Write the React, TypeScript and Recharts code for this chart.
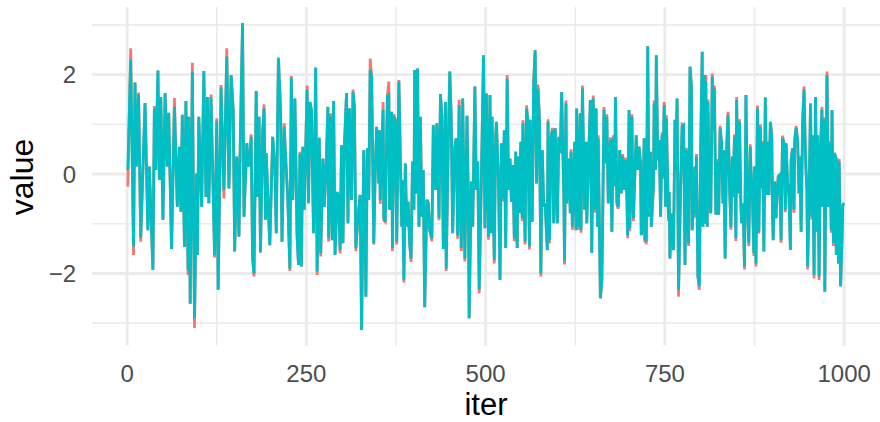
import { LineChart, Line, XAxis, YAxis, CartesianGrid } from 'recharts';

const iters = [
  // 0 - 142
  1, 5, 9, 11, 13, 16, 19, 25, 29, 31, 36, 38, 40, 43, 45, 47, 50, 53, 56, 58,
  62, 66, 70, 73, 75, 77, 80, 82, 85, 86, 88, 91, 94, 97, 98, 100, 104, 107, 110, 112,
  114, 117, 122, 125, 127, 131, 135, 139, 142,
  // 145 - 322
  145, 148, 150, 153, 156, 158, 161, 163, 167, 169, 171, 173, 175, 177, 180, 182, 184, 186, 189, 191,
  193, 194, 197, 199, 203, 206, 208, 211, 214, 216, 219, 222, 224, 227, 229, 231, 234, 237, 239, 241,
  243, 245, 247, 249, 251, 253, 255, 257, 260, 263, 265, 268, 270, 273, 275, 278, 280, 281, 284, 286,
  288, 290, 293, 295, 297, 299, 301, 303, 306, 308, 310, 313, 315, 317, 319, 322,
  // 325 - 501
  325, 327, 330, 332, 333, 335, 337, 339, 341, 344, 346, 348, 351, 352, 353, 355, 357, 358, 360, 363,
  365, 366, 369, 370, 372, 374, 376, 379, 381, 383, 384, 386, 388, 390, 392, 394, 396, 398, 400, 401,
  403, 405, 407, 409, 411, 413, 415, 418, 420, 422, 425, 427, 430, 432, 435, 437, 439, 441, 444, 445,
  448, 450, 452, 454, 457, 459, 461, 463, 466, 468, 471, 474, 476, 477, 480, 482, 485, 487, 489, 491,
  494, 497, 499, 501,
  // 504 - 683
  504, 506, 508, 509, 512, 514, 515, 518, 520, 522, 524, 526, 528, 530, 532, 534, 536, 538, 540, 542,
  544, 545, 547, 549, 551, 552, 555, 557, 559, 561, 562, 565, 567, 569, 571, 573, 575, 577, 579, 581,
  583, 586, 587, 589, 591, 593, 595, 597, 600, 602, 604, 606, 609, 610, 612, 613, 616, 618, 619, 621,
  624, 626, 627, 630, 632, 633, 635, 638, 640, 641, 644, 646, 648, 650, 652, 654, 656, 657, 660, 662,
  663, 665, 667, 669, 671, 674, 676, 678, 680, 681, 683,
  // 685 - 865
  685, 687, 689, 691, 693, 695, 697, 698, 700, 701, 704, 705, 706, 708, 710, 712, 714, 716, 717, 719,
  721, 722, 723, 724, 726, 728, 730, 731, 734, 735, 737, 738, 740, 742, 744, 746, 747, 749, 751, 752,
  755, 756, 757, 759, 762, 764, 765, 767, 769, 770, 772, 774, 776, 778, 780, 782, 783, 785, 787, 788,
  790, 792, 793, 794, 796, 798, 800, 802, 803, 805, 806, 807, 809, 810, 812, 814, 816, 818, 819, 821,
  823, 825, 827, 829, 831, 832, 834, 836, 838, 840, 842, 844, 845, 847, 849, 850, 852, 854, 856, 857,
  859, 861, 863, 865,
  // 867 - 1000
  867, 869, 870, 872, 874, 875, 877, 879, 881, 883, 885, 886, 888, 890, 892, 894, 895, 897, 899, 900,
  901, 903, 905, 906, 908, 910, 912, 914, 916, 918, 919, 921, 923, 925, 926, 928, 930, 931, 933, 935,
  937, 938, 940, 942, 944, 946, 948, 949, 951, 953, 955, 956, 958, 960, 962, 963, 965, 967, 969, 970,
  972, 973, 975, 976, 978, 980, 982, 983, 985, 986, 988, 989, 990, 992, 993, 995, 997, 998, 1000,
];

// chain 1 (red, drawn underneath)
const chainRed = [
  -0.25, 2.53, -1.63, 1.84, 0.15, 1.64, -1.36, 1.43, -1.13, 0.15, -1.93, 1.37, 0.08, 2.08, -0.12, 1.55, -0.92, 1.63, 0.15, 1.23,
  -1.51, 1.53, -0.66, 0.55, -0.76, 1.19, -1.47, 1.47, -2.03, 1.15, -2.61, 2.24, -3.1, 0.01, -1.63, 1.15, -0.66, 2.07, -0.46, 1.55,
  -0.59, 1.6, -1.68, 1.12, -2.33, 1.79, -0.49, 2.53, -0.29,

  1.99, 1.29, -1.56, 0.35, -1.26, 0.82, 3.04, -0.86, 0.62, 0.15, 0.28, 0.8, -1.7, -2.06, 1.67, -0.46, 1.15, -1.58, 0.85, 1.4,
  -0.92, 0.42, -0.72, -1.43, 0.75, 0.15, -1.19, 2.34, 1.29, -1.36, 1.02, 0.08, -0.46, -1.95, 1.97, -0.52, 1.52, -1.23, -1.83, 0.45,
  -1.86, 0.55, -0.72, 0.48, 1.78, -0.59, 1.45, 1.29, -1.19, 2.14, -2.03, 0.73, -1.66, 0.31, -0.66, 0.35, 1.35, -1.36, 1.22, -1.33,
  1.47, -1.63, -0.4, -0.46, -1.6, 0.58, -1.39, 0.55, 1.63, -0.99, 1.32, -0.52, 1.7, 1.35, -1.55, -0.86,

  -0.42, -3.14, 0.48, -1.13, -2.47, 0.52, -0.52, 2.32, 1.96, -1.42, 0.05, 0.95, -0.19, 0.88, -0.6, 0.35, 1.45, -0.93, -0.96, 1.57,
  1.86, -0.72, 1.25, -1.55, 1.2, 1.09, -1.42, 1.89, 0.35, -1.06, -0.12, -2.18, 0.21, -1.06, -0.56, -1.39, -1.77, 0.25, -0.72, 2.09,
  -0.39, 2.12, -1.06, 1.15, -0.86, 0.08, -2.68, -0.52, -0.59, -1.13, -1.35, 0.98, -0.32, 1.02, -0.93, 1.61, 1.15, -1.51, 1.45, -1.95,
  0.72, 2.06, 1.12, -1.19, 0.55, 0.72, -1.3, 1.49, -1.55, 1.52, -1.76, 1.17, -0.69, -2.9, -0.15, -1.06, 1.76, -0.32, 0.25, -2.4,
  -0.12, 2.39, -1.09, 1.62,

  -1.32, 1.59, -1.19, 1.15, -1.8, 0.75, 1.05, -0.19, -2.13, 0.62, -0.55, 0.88, -1.49, 1.99, -0.32, 0.31, -0.56, 0.18, -1.35, 0.45,
  -1.49, 0.35, -0.79, 0.65, -0.95, 1.08, -1.42, 1.38, 1.05, -1.52, 1.09, -0.96, 1.88, 2.49, -0.19, 1.8, 1.14, -2.06, 0.48, -0.66,
  -0.59, -1.53, 1.1, -1.4, 0.68, 0.93, -0.99, 0.92, -0.99, 0.75, 0.42, 1.65, -0.42, -1.82, 1.48, -0.59, 0.31, -0.79, 0.5, -1.12,
  0.65, -1.13, 1.32, -1.12, 1.22, -1.18, 1.78, -0.72, 0.65, -0.99, 0.48, 1.49, -1.59, 1.58, -0.78, 1.32, -1.06, 0.78, -2.5, -2.18,
  -1.16, 1.35, 0.21, 1.2, -0.59, 0.74, -1.16, 0.78, -0.25, 1.55, -0.62,

  -0.7, 0.48, -0.39, 0.4, -0.32, 0.33, -0.46, -1.29, 1.29, -1.15, 1.2, -0.25, -0.95, -0.05, 0.78, 0.08, 0.55, 0.21, -1.23, -1.0,
  0.72, -1.38, 0.1, -1.42, 2.57, -0.86, 0.45, -1.06, -0.25, 1.48, 0.08, 2.39, 0.28, 0.68, -0.86, 0.84, -0.1, 1.45, -0.66, 1.18,
  -0.95, -0.36, -1.7, -0.85, -1.53, 1.09, 0.08, 1.52, -2.47, -1.66, -0.19, 1.0, 0.98, -1.83, 0.53, -0.86, -1.45, 2.16, 1.76, -1.13,
  -0.59, 0.15, -0.88, 0.4, -2.06, -2.33, 0.68, 2.46, -1.06, 1.99, -1.0, 1.99, -1.06, 1.5, -0.5, -0.79, 2.02, 0.88, 1.78, -0.82,
  0.3, -0.82, 0.97, 0.62, -0.59, 0.48, -1.7, 0.53, 1.25, -0.19, -1.12, 0.35, -0.46, 0.8, -1.35, 1.55, -0.39, 1.1, -0.66, -0.99,
  -0.65, -1.92, 1.59, -0.59,

  -1.45, 0.6, 0.08, -0.46, -1.65, 0.15, -1.86, 1.38, -1.2, 1.0, -0.29, 0.67, -1.56, 1.54, -0.42, 0.65, -0.42, 1.05, 0.8, -0.79,
  -1.33, -0.15, -0.89, -0.52, -0.05, -0.02, -1.38, 0.77, 0.62, -0.77, 0.62, -0.15, -0.47, -1.53, 0.28, 0.52, -0.78, 0.68, 0.97, 0.68,
  -0.39, 0.35, -1.16, 1.02, 1.76, 0.35, -0.32, -1.92, -0.62, 1.42, -0.92, 0.78, -2.1, 1.55, -1.16, 0.78, -2.13, 0.48, 1.35, -0.66,
  1.14, -2.37, 0.75, 2.06, -0.66, 0.67, -1.18, 1.29, -1.45, 0.42, 0.35, -1.63, 0.33, -1.8, 0.3, -2.26, -1.32, -0.62, -0.59,
];

// chain 2 (cyan, drawn on top)
const chainCyan = [
  0.08, 2.3, -1.46, 1.84, 0.15, 1.6, -1.28, 1.43, -1.13, 0.15, -1.93, 1.32, 0.08, 2.08, -0.12, 1.55, -0.92, 1.63, 0.15, 1.23,
  -1.51, 1.35, -0.66, 0.55, -0.76, 1.19, -1.47, 1.47, -1.93, 1.15, -2.61, 2.06, -2.9, 0.01, -1.63, 1.15, -0.66, 2.07, -0.46, 1.55,
  -0.59, 1.54, -1.63, 1.07, -2.33, 1.74, -0.32, 2.36, -0.29,

  1.99, 1.29, -1.56, 0.35, -1.26, 0.82, 3.04, -0.86, 0.62, 0.15, 0.28, 0.75, -1.7, -2.0, 1.67, -0.46, 1.15, -1.58, 0.85, 1.32,
  -0.92, 0.42, -0.72, -1.43, 0.75, 0.15, -1.19, 2.34, 1.29, -1.36, 0.95, 0.08, -0.46, -1.9, 1.94, -0.52, 1.52, -1.23, -1.83, 0.4,
  -1.86, 0.55, -0.72, 0.48, 1.69, -0.59, 1.45, 1.29, -1.19, 2.14, -1.96, 0.73, -1.59, 0.31, -0.66, 0.35, 1.35, -1.29, 1.15, -1.33,
  1.47, -1.63, -0.36, -0.46, -1.53, 0.58, -1.39, 0.55, 1.63, -0.99, 1.32, -0.52, 1.65, 1.35, -1.49, -0.86,

  -0.42, -3.14, 0.48, -1.13, -2.47, 0.52, -0.52, 2.09, 1.96, -1.39, 0.05, 0.95, -0.19, 0.88, -0.52, 0.35, 1.29, -0.89, -0.96, 1.57,
  1.59, -0.72, 1.25, -1.49, 1.15, 1.09, -1.36, 1.86, 0.35, -1.06, -0.12, -2.13, 0.21, -1.06, -0.56, -1.39, -1.7, 0.25, -0.72, 2.09,
  -0.39, 2.12, -1.06, 1.15, -0.86, 0.08, -2.68, -0.52, -0.59, -1.13, -1.29, 0.98, -0.32, 1.02, -0.89, 1.61, 1.15, -1.51, 1.45, -1.9,
  0.72, 2.06, 1.12, -1.19, 0.55, 0.72, -1.23, 1.39, -1.49, 1.52, -1.7, 1.17, -0.69, -2.9, -0.15, -1.06, 1.76, -0.32, 0.25, -2.33,
  -0.12, 2.39, -1.09, 1.62,

  -1.26, 1.59, -1.19, 1.15, -1.73, 0.75, 1.05, -0.19, -2.13, 0.62, -0.49, 0.88, -1.49, 1.92, -0.32, 0.31, -0.56, 0.18, -1.29, 0.45,
  -1.49, 0.35, -0.79, 0.65, -0.89, 1.02, -1.36, 1.32, 1.05, -1.46, 1.09, -0.96, 1.82, 2.49, -0.19, 1.72, 1.09, -2.0, 0.48, -0.66,
  -0.59, -1.53, 1.05, -1.33, 0.68, 0.88, -0.99, 0.92, -0.99, 0.75, 0.42, 1.65, -0.42, -1.76, 1.42, -0.59, 0.31, -0.79, 0.45, -1.06,
  0.65, -1.13, 1.32, -1.06, 1.22, -1.13, 1.72, -0.72, 0.65, -0.99, 0.48, 1.49, -1.59, 1.52, -0.72, 1.32, -1.06, 0.72, -2.5, -2.13,
  -1.16, 1.29, 0.21, 1.15, -0.59, 0.68, -1.16, 0.72, -0.25, 1.55, -0.56,

  -0.66, 0.48, -0.39, 0.35, -0.32, 0.28, -0.46, -1.23, 1.29, -1.09, 1.15, -0.25, -0.89, -0.05, 0.78, 0.08, 0.55, 0.21, -1.23, -0.96,
  0.72, -1.33, 0.1, -1.36, 2.57, -0.86, 0.45, -1.06, -0.25, 1.42, 0.08, 2.39, 0.28, 0.68, -0.86, 0.78, -0.05, 1.39, -0.66, 1.12,
  -0.89, -0.36, -1.7, -0.79, -1.53, 1.09, 0.08, 1.52, -2.33, -1.66, -0.19, 0.95, 0.98, -1.83, 0.48, -0.86, -1.39, 2.16, 1.76, -1.13,
  -0.59, 0.15, -0.82, 0.35, -2.06, -2.26, 0.68, 2.46, -1.06, 1.99, -1.0, 1.86, -1.06, 1.45, -0.46, -0.79, 1.96, 0.88, 1.72, -0.82,
  0.25, -0.82, 0.92, 0.62, -0.59, 0.48, -1.7, 0.48, 1.19, -0.19, -1.06, 0.35, -0.46, 0.75, -1.29, 1.49, -0.39, 1.05, -0.66, -0.99,
  -0.59, -1.86, 1.59, -0.59,

  -1.39, 0.55, 0.08, -0.46, -1.59, 0.15, -1.8, 1.32, -1.16, 0.95, -0.29, 0.62, -1.56, 1.54, -0.42, 0.65, -0.42, 1.05, 0.75, -0.79,
  -1.33, -0.15, -0.89, -0.52, -0.05, -0.02, -1.33, 0.72, 0.62, -0.72, 0.62, -0.15, -0.42, -1.53, 0.28, 0.52, -0.72, 0.68, 0.92, 0.68,
  -0.39, 0.35, -1.16, 1.02, 1.7, 0.35, -0.32, -1.86, -0.62, 1.42, -0.86, 0.78, -2.03, 1.55, -1.16, 0.78, -2.06, 0.48, 1.29, -0.66,
  1.09, -2.37, 0.75, 1.99, -0.66, 0.62, -1.13, 1.29, -1.39, 0.42, 0.35, -1.63, 0.28, -1.8, 0.25, -2.26, -1.26, -0.62, -0.59,
];

const xTicks = [0, 250, 500, 750, 1000];
const xMinor = [125, 375, 625, 875];
const yTicks = [-2, 0, 2];
const yMinor = [-3, -1, 1, 3];

const data = iters.map((iter, i) => ({ iter, red: chainRed[i], cyan: chainCyan[i] }));

const FONT = '"Liberation Sans", Arial, Helvetica, sans-serif';
const tickStyle = { fontSize: 24, fill: '#4D4D4D', fontFamily: FONT };

const fmt = (v: number) => (v < 0 ? `\u2212${Math.abs(v)}` : `${v}`);

export default function App() {
  return (
    <div style={{ position: 'absolute', left: 0, top: 0, width: 880, height: 422, background: '#fff' }}>
      <LineChart width={880} height={422} data={data} margin={{ top: 7, right: 0, bottom: 0, left: 0 }}>
        <CartesianGrid horizontalValues={yMinor} verticalValues={xMinor} stroke="#EBEBEB" strokeWidth={1.6} />
        <CartesianGrid horizontalValues={yTicks} verticalValues={xTicks} stroke="#EBEBEB" strokeWidth={2.9} />
        <XAxis
          dataKey="iter"
          type="number"
          domain={[-48.95, 1049.95]}
          ticks={xTicks}
          allowDataOverflow
          axisLine={false}
          tickLine={false}
          tickSize={0}
          tickMargin={19}
          height={76}
          tick={tickStyle}
        />
        <YAxis
          type="number"
          domain={[-3.46, 3.36]}
          ticks={yTicks}
          allowDataOverflow
          axisLine={false}
          tickLine={false}
          tickSize={0}
          tickMargin={16}
          width={92}
          tick={tickStyle}
          tickFormatter={fmt}
        />
        <Line dataKey="red" stroke="#F8766D" strokeWidth={2.8} dot={false} isAnimationActive={false} />
        <Line dataKey="cyan" stroke="#00BFC4" strokeWidth={2.8} dot={false} isAnimationActive={false} />
      </LineChart>
      <svg width={880} height={422} style={{ position: 'absolute', left: 0, top: 0, pointerEvents: 'none' }}>
        <text x={486} y={415} textAnchor="middle" fontSize={31} fill="#000" fontFamily={FONT}>
          iter
        </text>
        <text transform="translate(33,177) rotate(-90)" textAnchor="middle" fontSize={32} fill="#000" fontFamily={FONT}>
          value
        </text>
      </svg>
    </div>
  );
}
